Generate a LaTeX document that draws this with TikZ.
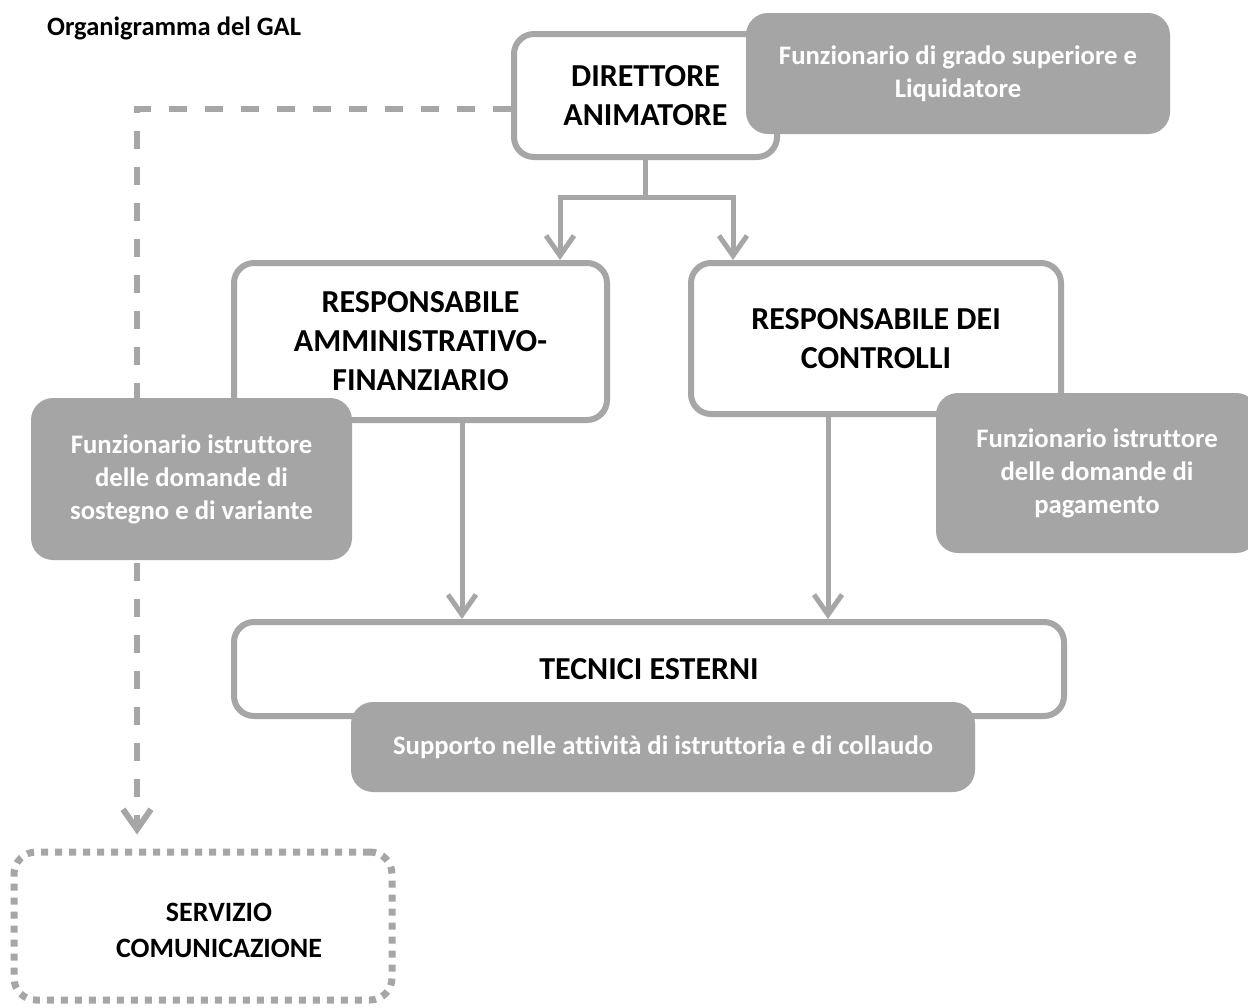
\documentclass[tikz,border=0pt]{standalone}
\usepackage{fontspec}
\setmainfont{Carlito}[Ligatures=NoCommon]
\usetikzlibrary{arrows.meta}
\definecolor{lg}{HTML}{A6A6A6}
\definecolor{fg}{HTML}{A5A5A5}
\begin{document}
\begin{tikzpicture}[x=1pt,y=-1pt,
  wbox/.style={draw=lg, line width=6pt, fill=white, rounded corners=20pt, inner sep=0pt, align=center, font=\bfseries\fontsize{32}{39}\selectfont},
  gbox/.style={fill=fg, rounded corners=22pt, inner sep=0pt, align=center, text=white, font=\bfseries\fontsize{26.7}{33}\selectfont},
  conn/.style={draw=lg, line width=5pt},
  tip/.tip={Straight Barb[length=20pt,width=28pt]},
  arr/.style={-tip},
  dashline/.style={draw=lg, line width=6pt, dash pattern=on 18pt off 18pt},
  dotbox/.style={draw=lg, line width=7pt, dash pattern=on 7pt off 7pt, rounded corners=22pt, inner sep=0pt, fill=white},
  lbl/.style={inner sep=0pt, align=center, font=\bfseries\fontsize{28}{36}\selectfont}
]
\clip (0,0) rectangle (1248,1007);
\fill[white] (0,0) rectangle (1248,1007);

\node[anchor=base west, inner sep=0pt, font=\bfseries\fontsize{26.5}{30}\selectfont] (title) at (47,35) {Organigramma del GAL};

% white boxes
\node[wbox, minimum width=263pt, minimum height=123pt] (dir) at (645.5,95.5) {DIRETTORE\\ANIMATORE};
\node[wbox, minimum width=373pt, minimum height=157pt] (ra) at (420.5,341.5) {RESPONSABILE\\AMMINISTRATIVO-\\FINANZIARIO};
\node[wbox, minimum width=370pt, minimum height=151pt] (rc) at (876,338.5) {RESPONSABILE DEI\\CONTROLLI};
\node[wbox, minimum width=830pt, minimum height=94pt] (tec) at (649,669) {TECNICI ESTERNI};
\node[dotbox, minimum width=378pt, minimum height=148pt] (ser) at (203,926) {};
\node[lbl] (serl) at (219,930) {SERVIZIO\\COMUNICAZIONE};

% connectors
\coordinate (jl) at (560,197);
\coordinate (jr) at (733,197);
\draw[conn] (dir.south) -- (dir.south |- jl);
\draw[conn, tip-tip] (jl |- ra.north) -- (jl) -- (jr) -- (jr |- rc.north);
\draw[conn, arr] ([xshift=41.5pt]ra.south) -- ([xshift=41.5pt]ra.south |- tec.north);
\draw[conn, arr] ([xshift=-48pt]rc.south) -- ([xshift=-48pt]rc.south |- tec.north);

\coordinate (dc) at (137,108.5);
\draw[dashline, arr, shorten >=14pt] (dir.west |- dc) -- (dc) -- (dc |- ser.north);

% grey boxes
\node[gbox, minimum width=424pt, minimum height=121pt] (g1) at (958,73.5) {Funzionario di grado superiore e\\Liquidatore};
\node[gbox, minimum width=321pt, minimum height=162pt] (g2) at (191.5,479) {Funzionario istruttore\\delle domande di\\sostegno e di variante};
\node[gbox, minimum width=322pt, minimum height=160pt] (g3) at (1097,473) {Funzionario istruttore\\delle domande di\\pagamento};
\node[gbox, minimum width=624pt, minimum height=90pt] (g4) at (663,747) {Supporto nelle attività di istruttoria e di collaudo};
\end{tikzpicture}
\end{document}
